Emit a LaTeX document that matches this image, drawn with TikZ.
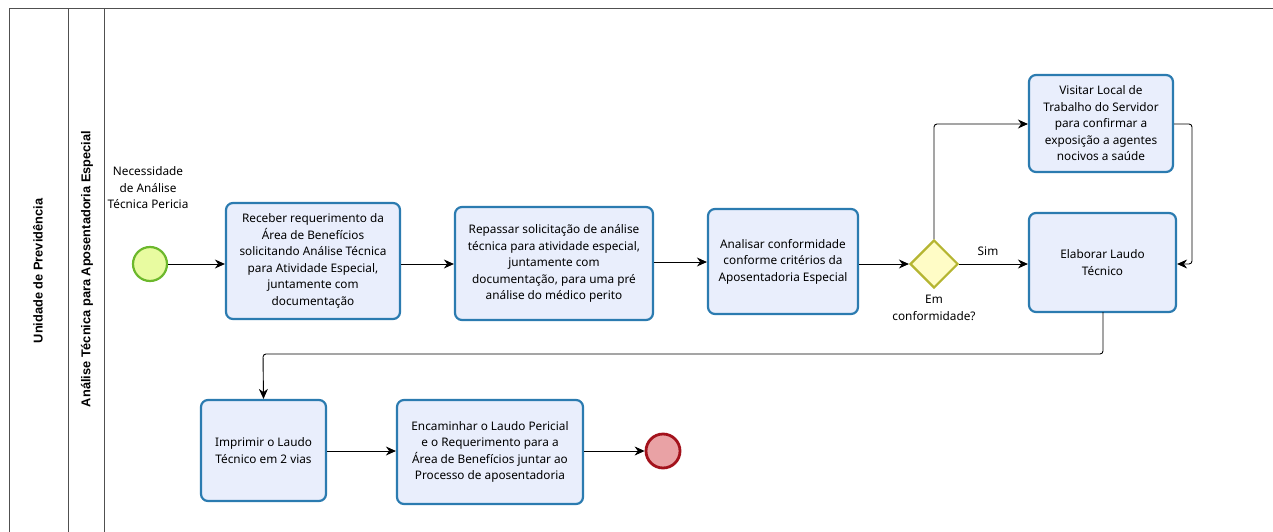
\documentclass[tikz,border=0pt]{standalone}
\usepackage{fontspec}
\setmainfont{Noto Sans}
\newfontfamily\lanefont{Liberation Sans}
\usetikzlibrary{arrows.meta,shapes.geometric}
\definecolor{taskfill}{HTML}{E9EEFC}
\definecolor{taskdraw}{HTML}{2B7BB0}
\definecolor{startfill}{HTML}{E8FBA0}
\definecolor{startdraw}{HTML}{6CB82C}
\definecolor{endfill}{HTML}{E9A2A5}
\definecolor{enddraw}{HTML}{A3121C}
\definecolor{gwfill}{HTML}{FFFCC6}
\definecolor{gwdraw}{HTML}{B5B531}
\definecolor{frame}{HTML}{505050}
\tikzset{
  task/.style={draw=taskdraw, fill=taskfill, line width=2.2pt, rounded corners=7pt,
    align=center, font=\fontsize{11.8}{16.5}\selectfont, inner sep=0pt},
  flow/.style={draw=black, line width=0.9pt, -{Stealth[length=10pt,width=9pt]}, rounded corners=3pt},
  lbl/.style={font=\fontsize{11.8}{16.5}\selectfont, align=center, inner sep=0pt},
  lane/.style={font=\lanefont\bfseries\fontsize{12.8}{15}\selectfont, rotate=90, inner sep=0pt}
}
\begin{document}
\begin{tikzpicture}[x=1pt,y=-1pt]
\useasboundingbox (0,0) rectangle (1273,532);
% frame
\draw[frame, line width=1pt] (1273,9) -- (9,9) -- (9,532);
\draw[frame, line width=1pt] (68,9) -- (68,532);
\draw[frame, line width=1pt] (104,9) -- (104,532);
\node[lane] (pool) at (38,271) {Unidade de Previdência};
\node[lane] (lanelbl) at (87,269) {Análise Técnica para Aposentadoria Especial};
% events
\node[circle, draw=startdraw, fill=startfill, line width=2.2pt, minimum size=34pt, inner sep=0pt] (start) at (150,264) {};
\node[lbl] (startlbl) at (148,188) {Necessidade\\de Análise\\Técnica Pericia};
\node[circle, draw=enddraw, fill=endfill, line width=2.8pt, minimum size=34pt, inner sep=0pt] (end) at (663,451) {};
% tasks
\node[task, minimum width=174pt, minimum height=116pt] (t1) at (313,261) {Receber requerimento da\\Área de Benefícios\\solicitando Análise Técnica\\para Atividade Especial,\\juntamente com\\documentação};
\node[task, minimum width=198pt, minimum height=113pt] (t2) at (554,263.5) {Repassar solicitação de análise\\técnica para atividade especial,\\juntamente com\\documentação, para uma pré\\análise do médico perito};
\node[task, minimum width=150pt, minimum height=105pt] (t3) at (783,261.5) {Analisar conformidade\\conforme critérios da\\Aposentadoria Especial};
\node[diamond, draw=gwdraw, fill=gwfill, line width=2.2pt, minimum width=48pt, minimum height=48pt, inner sep=0pt] (gw) at (934,264) {};
\node[lbl] (gwlbl) at (934,308) {Em\\conformidade?};
\node[task, minimum width=144pt, minimum height=97pt] (t4) at (1101,123.5) {Visitar Local de\\Trabalho do Servidor\\para confirmar a\\exposição a agentes\\nocivos a saúde};
\node[task, minimum width=147pt, minimum height=99pt] (t5) at (1102.5,262.5) {Elaborar Laudo\\Técnico};
\node[task, minimum width=125pt, minimum height=101pt] (t6) at (263.5,450.5) {Imprimir o Laudo\\Técnico em 2 vias};
\node[task, minimum width=186pt, minimum height=104pt] (t7) at (490,452) {Encaminhar o Laudo Pericial\\e o Requerimento para a\\Área de Benefícios juntar ao\\Processo de aposentadoria};
% connectors
\draw[flow] (start.east) -- (t1.west |- start.east);
\draw[flow] (t1.east |- start.east) -- (t2.west |- start.east);
\draw[flow] (t2.east |- 0,262) -- (t3.west |- 0,262);
\draw[flow] (t3.east |- gw.west) -- (gw.west);
\draw[flow] (gw.east) -- node[lbl, above=8pt, pos=0.42] (sim) {Sim} (t5.west |- gw.east);
\draw[flow] (gw.north) -- (934,124) -- (t4.west |- 0,124);
\draw[flow] (t4.east |- 0,124) -- (1192,124) -- (1192,264) -- (t5.east |- 0,264);
\draw[flow] (1103,312) -- (1103,354) -- (263,354) -- (t6.north);
\draw[flow] (t6.east |- 0,451) -- (t7.west |- 0,451);
\draw[flow] (t7.east |- end.west) -- (end.west);
\end{tikzpicture}
\end{document}
